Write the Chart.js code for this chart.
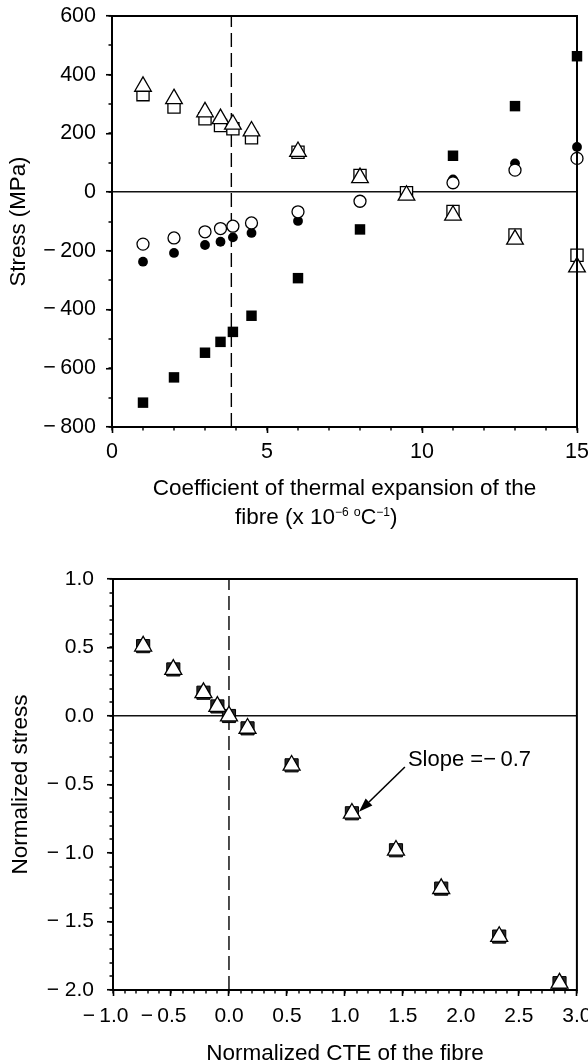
<!DOCTYPE html>
<html><head><meta charset="utf-8">
<script src="https://cdn.jsdelivr.net/npm/chart.js@4.4.0/dist/chart.umd.min.js"></script>
<style>
html,body{margin:0;padding:0;background:#fff;width:588px;height:1061px;overflow:hidden;}
canvas{position:absolute;left:0;}
#c1{top:0;}
#c2{top:535px;}
</style></head><body>
<canvas id="c1" width="588" height="535"></canvas>
<canvas id="c2" width="588" height="526"></canvas>
<script>
// ---------- Top chart data (stress vs fibre CTE) ----------
const cteValues          = [1, 2, 3, 3.5, 3.9, 4.5, 6, 8, 9.5, 11, 13, 15];
const filledSquareStress = [-717, -631, -547, -510, -476, -421, -293, -127, null, 124, 293, 463];
const filledCircleStress = [-237, -207, -180, -169, -154, -139, -98, -35, null, 43, 98, 154];
const openCircleStress   = [-177, -156, -135, -124, -116, -105, -67, -31, null, 32, 75, 115];
const openSquareStress   = [332, 290, 250, 227, 216, 185, 136, 57, -2, -66, -146, -215];
const triangleStress     = [360, 318, 273, 250, 231, 208, 138, 49, -11, -79, -161, -255];
const matrixCte = 3.85;          // dashed reference line
const topXTicks = [0, 5, 10, 15];

// ---------- Bottom chart data (normalized) ----------
const normCte    = [-0.74, -0.48, -0.22, -0.10, 0, 0.16, 0.54, 1.06, 1.44, 1.83, 2.33, 2.85];
const normStress = [0.51, 0.34, 0.17, 0.07, 0, -0.09, -0.36, -0.71, -0.98, -1.26, -1.61, -1.95];
const slopeText  = 'Slope =\u2212\u20090.7';

const FONT = "'Liberation Sans', Arial, Helvetica, sans-serif";
const MINUS = '\u2212';

function pts(xs, ys) {
  const out = [];
  xs.forEach((x, i) => { if (ys[i] !== null) out.push({x, y: ys[i]}); });
  return out;
}
function fmtInt(v) { return v < 0 ? MINUS + '\u2009' + Math.abs(v) : String(v); }
function fmtY1(v) { const a = Math.abs(v).toFixed(1); return v < -1e-9 ? MINUS + ' ' + a : a; }
// x labels: minus hangs to the left of the centred number
function fmtX1(v) { const a = Math.abs(v).toFixed(1); return v < -1e-9 ? MINUS + '\u2009' + a + '\u2002\u2009' : a; }

function drawRich(ctx, segs, x0, baseline) {
  let x = x0;
  ctx.textAlign = 'left';
  ctx.textBaseline = 'alphabetic';
  segs.forEach(s => {
    ctx.font = s.size + 'px ' + FONT;
    ctx.fillText(s.t, x, baseline - (s.rise || 0));
    x += ctx.measureText(s.t).width;
  });
}

const decor = {
  id: 'decor',
  afterDraw(chart, args, o) {
    const ctx = chart.ctx, a = chart.chartArea;
    const xs = chart.scales.x, ys = chart.scales.y;
    ctx.save();
    ctx.strokeStyle = '#000';
    ctx.fillStyle = '#000';
    // top and right frame
    ctx.lineWidth = 2;
    ctx.beginPath();
    ctx.moveTo(a.left - 1, a.top); ctx.lineTo(a.right, a.top); ctx.lineTo(a.right, a.bottom + 1);
    ctx.stroke();
    // minor ticks
    ctx.lineWidth = 1.4;
    ctx.beginPath();
    for (let k = Math.ceil(xs.min / o.minorX - 1e-6); k * o.minorX <= xs.max + 1e-6; k++) {
      const px = Math.round(xs.getPixelForValue(k * o.minorX));
      ctx.moveTo(px, a.bottom); ctx.lineTo(px, a.bottom + 3.5);
    }
    for (let k = Math.ceil(ys.min / o.minorY - 1e-6); k * o.minorY <= ys.max + 1e-6; k++) {
      const py = Math.round(ys.getPixelForValue(k * o.minorY));
      ctx.moveTo(a.left, py); ctx.lineTo(a.left - 3.5, py);
    }
    ctx.stroke();
    // y title
    ctx.font = o.yTitleSize + 'px ' + FONT;
    ctx.textAlign = 'center';
    ctx.textBaseline = 'middle';
    ctx.save();
    ctx.translate(o.yTitleX, (a.top + a.bottom) / 2);
    ctx.rotate(-Math.PI / 2);
    ctx.fillText(o.yTitle, 0, 0);
    ctx.restore();
    // x title lines
    o.xTitle.forEach(line => {
      let x0 = line.x;
      if (line.center) {
        let w = 0;
        line.segs.forEach(s => { ctx.font = s.size + 'px ' + FONT; w += ctx.measureText(s.t).width; });
        x0 = (a.left + a.right) / 2 - w / 2;
      }
      drawRich(ctx, line.segs, x0, line.baseline);
    });
    // annotation
    if (o.note) {
      const n = o.note;
      const x0 = xs.getPixelForValue(n.from.x), y0 = ys.getPixelForValue(n.from.y);
      const x1 = xs.getPixelForValue(n.to.x), y1 = ys.getPixelForValue(n.to.y);
      const ang = Math.atan2(y1 - y0, x1 - x0);
      const hl = 14, hw = 4.8;
      const bx = x1 - hl * Math.cos(ang), by = y1 - hl * Math.sin(ang);
      ctx.lineWidth = 1.6;
      ctx.beginPath(); ctx.moveTo(x0, y0); ctx.lineTo(bx, by); ctx.stroke();
      ctx.beginPath();
      ctx.moveTo(x1, y1);
      ctx.lineTo(bx + hw * Math.sin(ang), by - hw * Math.cos(ang));
      ctx.lineTo(bx - hw * Math.sin(ang), by + hw * Math.cos(ang));
      ctx.closePath(); ctx.fill();
      ctx.font = n.size + 'px ' + FONT;
      ctx.textAlign = 'left'; ctx.textBaseline = 'middle';
      ctx.fillText(n.text, xs.getPixelForValue(n.at.x), ys.getPixelForValue(n.at.y));
    }
    ctx.restore();
  }
};

function axisCommon(extra) {
  return Object.assign({
    type: 'linear',
    grid: { drawOnChartArea: false, drawTicks: true, tickLength: 6, tickColor: '#000', tickWidth: 1.6 },
    border: { display: true, color: '#000', width: 2 },
  }, extra);
}

const markerBase = { showLine: false, pointHoverRadius: 0, clip: false };

// ---------- Top chart ----------
new Chart(document.getElementById('c1'), {
  type: 'scatter',
  data: {
    datasets: [
      { label: 'ref', data: [{x: matrixCte, y: -800}, {x: matrixCte, y: 600}], showLine: true,
        borderColor: '#000', borderWidth: 1.4, borderDash: [14, 6], pointRadius: 0, order: 10 },
      Object.assign({ label: 'filled square', data: pts(cteValues, filledSquareStress), pointStyle: 'rect',
        pointRadius: 7.4, backgroundColor: '#000', borderColor: '#000', borderWidth: 0, order: 5 }, markerBase),
      Object.assign({ label: 'filled circle', data: pts(cteValues, filledCircleStress), pointStyle: 'circle',
        pointRadius: 4.9, backgroundColor: '#000', borderColor: '#000', borderWidth: 0, order: 4 }, markerBase),
      Object.assign({ label: 'open circle', data: pts(cteValues, openCircleStress), pointStyle: 'circle',
        pointRadius: 6, backgroundColor: '#fff', borderColor: '#000', borderWidth: 1.3, order: 3 }, markerBase),
      Object.assign({ label: 'open square', data: pts(cteValues, openSquareStress), pointStyle: 'rect',
        pointRadius: 8.6, backgroundColor: '#fff', borderColor: '#000', borderWidth: 1.3, order: 2 }, markerBase),
      Object.assign({ label: 'triangle', data: pts(cteValues, triangleStress), pointStyle: 'triangle',
        pointRadius: 9.6, backgroundColor: '#fff', borderColor: '#000', borderWidth: 1.3, order: 1 }, markerBase),
    ]
  },
  options: {
    responsive: false, animation: false, events: [],
    layout: { padding: { left: 0, right: 11, top: 16, bottom: 0 } },
    plugins: {
      legend: { display: false }, tooltip: { enabled: false },
      decor: {
        minorX: 1, minorY: 100, yTitleSize: 22.3, yTitleX: 19, yTitle: 'Stress (MPa)',
        xTitle: [
          { center: true, baseline: 495, segs: [{ t: 'Coefficient of thermal expansion of the', size: 22.5 }] },
          { x: 235, baseline: 524, segs: [
            { t: 'fibre (x 10', size: 22.5 }, { t: MINUS + '6', size: 12, rise: 8 }, { t: ' ', size: 18 },
            { t: 'o', size: 12.5, rise: 8 }, { t: 'C', size: 21.5 }, { t: MINUS + '1', size: 12, rise: 8 },
            { t: ')', size: 22.5 }] }
        ]
      }
    },
    scales: {
      x: axisCommon({
        min: 0, max: 15,
        afterBuildTicks: s => { s.ticks = topXTicks.map(v => ({ value: v })); },
        ticks: { color: '#000', font: { family: FONT, size: 21.5 }, padding: 6, maxRotation: 0, autoSkip: false },
        afterFit: s => { s.height = 108; s.paddingLeft = 0; s.paddingRight = 0; }
      }),
      y: axisCommon({
        min: -800, max: 600,
        ticks: { stepSize: 200, color: '#000', font: { family: FONT, size: 21.5 }, padding: 10, callback: v => fmtInt(v) },
        grid: { drawOnChartArea: true, drawTicks: true, tickLength: 6, tickColor: '#000', tickWidth: 1.6,
          color: c => (c.tick && c.tick.value === 0) ? '#111' : 'rgba(0,0,0,0)', lineWidth: 1.5 },
        afterFit: s => { s.width = 112; s.paddingTop = 0; s.paddingBottom = 0; }
      })
    }
  },
  plugins: [decor]
});

// ---------- Bottom chart ----------
new Chart(document.getElementById('c2'), {
  type: 'scatter',
  data: {
    datasets: [
      { label: 'ref', data: [{x: 0, y: -2}, {x: 0, y: 1}], showLine: true,
        borderColor: '#000', borderWidth: 1.4, borderDash: [14, 6], pointRadius: 0, order: 10 },
      Object.assign({ label: 'square', data: pts(normCte, normStress), pointStyle: 'rect',
        pointRadius: 9.3, backgroundColor: '#2a2a2a', borderColor: '#000', borderWidth: 1, order: 2 }, markerBase),
      Object.assign({ label: 'triangle', data: pts(normCte, normStress), pointStyle: 'triangle',
        pointRadius: 9.8, backgroundColor: '#fff', borderColor: '#000', borderWidth: 1.3, order: 1 }, markerBase),
    ]
  },
  options: {
    responsive: false, animation: false, events: [],
    layout: { padding: { left: 0, right: 11, top: 44, bottom: 0 } },
    plugins: {
      legend: { display: false }, tooltip: { enabled: false },
      decor: {
        minorX: 0.1, minorY: 0.1, yTitleSize: 22.5, yTitleX: 21, yTitle: 'Normalized stress',
        xTitle: [ { center: true, baseline: 524.5, segs: [{ t: 'Normalized CTE of the fibre', size: 22.5 }] } ],
        note: { text: slopeText, size: 22, from: {x: 1.517, y: -0.372}, to: {x: 1.121, y: -0.699}, at: {x: 1.543, y: -0.321} }
      }
    },
    scales: {
      x: axisCommon({
        min: -1, max: 3,
        ticks: { stepSize: 0.5, color: '#000', font: { family: FONT, size: 21 }, padding: 8, maxRotation: 0, autoSkip: false,
          callback: v => fmtX1(v) },
        afterFit: s => { s.height = 71; s.paddingLeft = 0; s.paddingRight = 0; }
      }),
      y: axisCommon({
        min: -2, max: 1,
        ticks: { stepSize: 0.5, color: '#000', font: { family: FONT, size: 21 }, padding: 13, callback: v => fmtY1(v) },
        grid: { drawOnChartArea: true, drawTicks: true, tickLength: 6, tickColor: '#000', tickWidth: 1.6,
          color: c => (c.tick && Math.abs(c.tick.value) < 1e-9) ? '#111' : 'rgba(0,0,0,0)', lineWidth: 1.5 },
        afterFit: s => { s.width = 113; s.paddingTop = 0; s.paddingBottom = 0; }
      })
    }
  },
  plugins: [decor]
});
</script>
</body></html>
